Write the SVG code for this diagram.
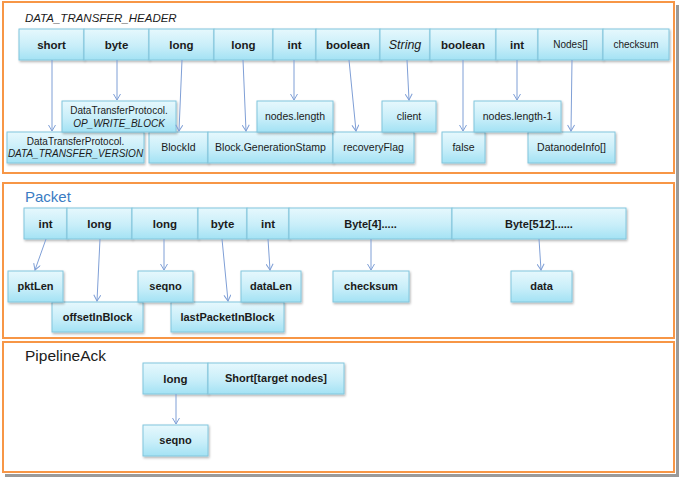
<svg xmlns="http://www.w3.org/2000/svg" width="681" height="479" viewBox="0 0 681 479">
<defs>
<linearGradient id="bg" x1="0" y1="0" x2="0" y2="1">
<stop offset="0" stop-color="#e6f8fd"/>
<stop offset="0.55" stop-color="#c8eef9"/>
<stop offset="1" stop-color="#a3e2f4"/>
</linearGradient>
<filter id="sh" x="-10%" y="-10%" width="130%" height="140%">
<feDropShadow dx="1" dy="1.5" stdDeviation="0.8" flood-color="#000" flood-opacity="0.3"/>
</filter>
<marker id="ah" viewBox="0 0 8 8" refX="7" refY="4" markerWidth="8" markerHeight="8" markerUnits="userSpaceOnUse" orient="auto">
<path d="M1,0.5 L7,4 L1,7.5" fill="none" stroke="#7f9fd6" stroke-width="1"/>
</marker>
</defs>
<style>
.frame{fill:#fff;stroke:#f79646;stroke-width:2}
.box{fill:url(#bg);stroke:#82c6dd;stroke-width:1;filter:url(#sh)}
text{font-family:"Liberation Sans",Arial,sans-serif;fill:#1b1b1b;text-anchor:middle}
.t{font-size:11.5px;font-weight:bold}
.s{font-size:10px}
.l{font-size:10.5px}
.p{font-size:11px;font-weight:bold}
.i{font-style:italic}
.title{text-anchor:start}
.conn line{stroke:#7f9fd6;stroke-width:1;marker-end:url(#ah)}
</style>
<rect width="681" height="479" fill="#fff"/>
<rect x="676" y="5" width="3" height="472" fill="#9a9a9a"/>
<rect x="5" y="474" width="674" height="3" fill="#9a9a9a"/>

<g id="frame-header"><rect class="frame" x="3" y="2" width="671" height="171"/>
<text class="title i" x="25" y="22" font-size="11.5">DATA_TRANSFER_HEADER</text></g>
<g id="frame-packet"><rect class="frame" x="3" y="183" width="671" height="155"/>
<text class="title" x="25" y="202" font-size="15" style="fill:#3a7cc3">Packet</text></g>
<g id="frame-ack"><rect class="frame" x="3" y="342" width="671" height="130"/>
<text class="title" x="25" y="361" font-size="15.5">PipelineAck</text></g>

<!-- header level 3 -->
<g id="h-dtv"><rect class="box" x="7" y="132" width="137" height="31"/><text class="s" x="75.5" y="144.5">DataTransferProtocol.</text><text class="s i" x="75.5" y="157">DATA_TRANSFER_VERSION</text></g>
<g id="h-blockid"><rect class="box" x="149" y="132" width="59" height="31"/><text class="l" x="178.5" y="151">BlockId</text></g>
<g id="h-genstamp"><rect class="box" x="208" y="132" width="125" height="31"/><text class="l" x="270.5" y="151">Block.GenerationStamp</text></g>
<g id="h-recovery"><rect class="box" x="333" y="132" width="81" height="31"/><text class="l" x="373.5" y="151">recoveryFlag</text></g>
<g id="h-false"><rect class="box" x="442" y="132" width="43" height="31"/><text class="l" x="463.5" y="151">false</text></g>
<g id="h-dninfo"><rect class="box" x="528" y="132" width="87" height="31"/><text class="l" x="571.5" y="151">DatanodeInfo[]</text></g>
<!-- header level 2 -->
<g id="h-op"><rect class="box" x="62" y="101" width="114" height="31"/><text class="s" x="119" y="113.5">DataTransferProtocol.</text><text class="s i" x="119" y="126.5">OP_WRITE_BLOCK</text></g>
<g id="h-nlen"><rect class="box" x="257" y="101" width="76" height="31"/><text class="l" x="295" y="120">nodes.length</text></g>
<g id="h-client"><rect class="box" x="382" y="101" width="54" height="31"/><text class="l" x="409" y="120">client</text></g>
<g id="h-nlen1"><rect class="box" x="474" y="101" width="87" height="31"/><text class="l" x="517.5" y="120">nodes.length-1</text></g>
<!-- header top row -->
<g id="h-short"><rect class="box" x="19" y="29" width="65" height="31"/><text class="t" x="51.5" y="49">short</text></g>
<g id="h-byte"><rect class="box" x="84" y="29" width="65" height="31"/><text class="t" x="116.5" y="49">byte</text></g>
<g id="h-long1"><rect class="box" x="149" y="29" width="65" height="31"/><text class="t" x="181.5" y="49">long</text></g>
<g id="h-long2"><rect class="box" x="214" y="29" width="59" height="31"/><text class="t" x="243.5" y="49">long</text></g>
<g id="h-int1"><rect class="box" x="273" y="29" width="43" height="31"/><text class="t" x="294.5" y="49">int</text></g>
<g id="h-bool1"><rect class="box" x="316" y="29" width="64" height="31"/><text class="t" x="348" y="49">boolean</text></g>
<g id="h-string"><rect class="box" x="380" y="29" width="50" height="31"/><text class="i" x="405" y="49" font-size="12.5">String</text></g>
<g id="h-bool2"><rect class="box" x="430" y="29" width="66" height="31"/><text class="t" x="463" y="49">boolean</text></g>
<g id="h-int2"><rect class="box" x="496" y="29" width="42" height="31"/><text class="t" x="517" y="49">int</text></g>
<g id="h-nodes"><rect class="box" x="538" y="29" width="65" height="31"/><text class="s" x="570.5" y="48">Nodes[]</text></g>
<g id="h-checksum"><rect class="box" x="603" y="29" width="66" height="31"/><text class="s" x="636" y="48">checksum</text></g>

<!-- packet -->
<g id="p-offset"><rect class="box" x="52" y="302" width="91" height="30"/><text class="p" x="97.5" y="321">offsetInBlock</text></g>
<g id="p-last"><rect class="box" x="171" y="302" width="113" height="30"/><text class="p" x="227.5" y="321">lastPacketInBlock</text></g>
<g id="p-pktlen"><rect class="box" x="8" y="271" width="55" height="31"/><text class="p" x="35.5" y="290">pktLen</text></g>
<g id="p-seqno"><rect class="box" x="138" y="271" width="55" height="31"/><text class="p" x="165.5" y="290">seqno</text></g>
<g id="p-datalen"><rect class="box" x="241" y="271" width="60" height="31"/><text class="p" x="271" y="290">dataLen</text></g>
<g id="p-checksum"><rect class="box" x="333" y="271" width="76" height="31"/><text class="p" x="371" y="290">checksum</text></g>
<g id="p-data"><rect class="box" x="511" y="271" width="61" height="31"/><text class="p" x="541.5" y="290">data</text></g>
<g id="p-int1"><rect class="box" x="24" y="208" width="43" height="31"/><text class="t" x="45.5" y="228">int</text></g>
<g id="p-long1"><rect class="box" x="67" y="208" width="65" height="31"/><text class="t" x="99.5" y="228">long</text></g>
<g id="p-long2"><rect class="box" x="132" y="208" width="66" height="31"/><text class="t" x="165" y="228">long</text></g>
<g id="p-byte"><rect class="box" x="198" y="208" width="49" height="31"/><text class="t" x="222.5" y="228">byte</text></g>
<g id="p-int2"><rect class="box" x="247" y="208" width="42" height="31"/><text class="t" x="268" y="228">int</text></g>
<g id="p-byte4"><rect class="box" x="289" y="208" width="163" height="31"/><text class="p" x="370.5" y="228" font-size="11.5">Byte[4].....</text></g>
<g id="p-byte512"><rect class="box" x="452" y="208" width="174" height="31"/><text class="p" x="539" y="228" font-size="11.5">Byte[512]......</text></g>

<!-- pipeline ack -->
<g id="a-long"><rect class="box" x="143" y="363" width="65" height="31"/><text class="t" x="175.5" y="383">long</text></g>
<g id="a-short"><rect class="box" x="208" y="363" width="136" height="31"/><text class="p" x="276" y="382">Short[target nodes]</text></g>
<g id="a-seqno"><rect class="box" x="143" y="425" width="65" height="31"/><text class="p" x="175.5" y="444">seqno</text></g>

<g id="connectors" class="conn">
<line x1="52" y1="60" x2="52" y2="131"/>
<line x1="117" y1="60" x2="117" y2="100"/>
<line x1="182" y1="60" x2="179" y2="131"/>
<line x1="243" y1="60" x2="246" y2="131"/>
<line x1="294" y1="60" x2="294" y2="100"/>
<line x1="349" y1="60" x2="356" y2="131"/>
<line x1="407" y1="60" x2="409" y2="100"/>
<line x1="463" y1="60" x2="463" y2="131"/>
<line x1="517" y1="60" x2="517" y2="100"/>
<line x1="572" y1="60" x2="571" y2="131"/>
<line x1="46" y1="239" x2="35" y2="270"/>
<line x1="100" y1="239" x2="97" y2="301"/>
<line x1="164" y1="239" x2="164" y2="270"/>
<line x1="222" y1="239" x2="228" y2="301"/>
<line x1="268" y1="239" x2="270" y2="270"/>
<line x1="371" y1="239" x2="371" y2="270"/>
<line x1="539" y1="239" x2="541" y2="270"/>
<line x1="176" y1="394" x2="176" y2="424"/>
</g>
</svg>
